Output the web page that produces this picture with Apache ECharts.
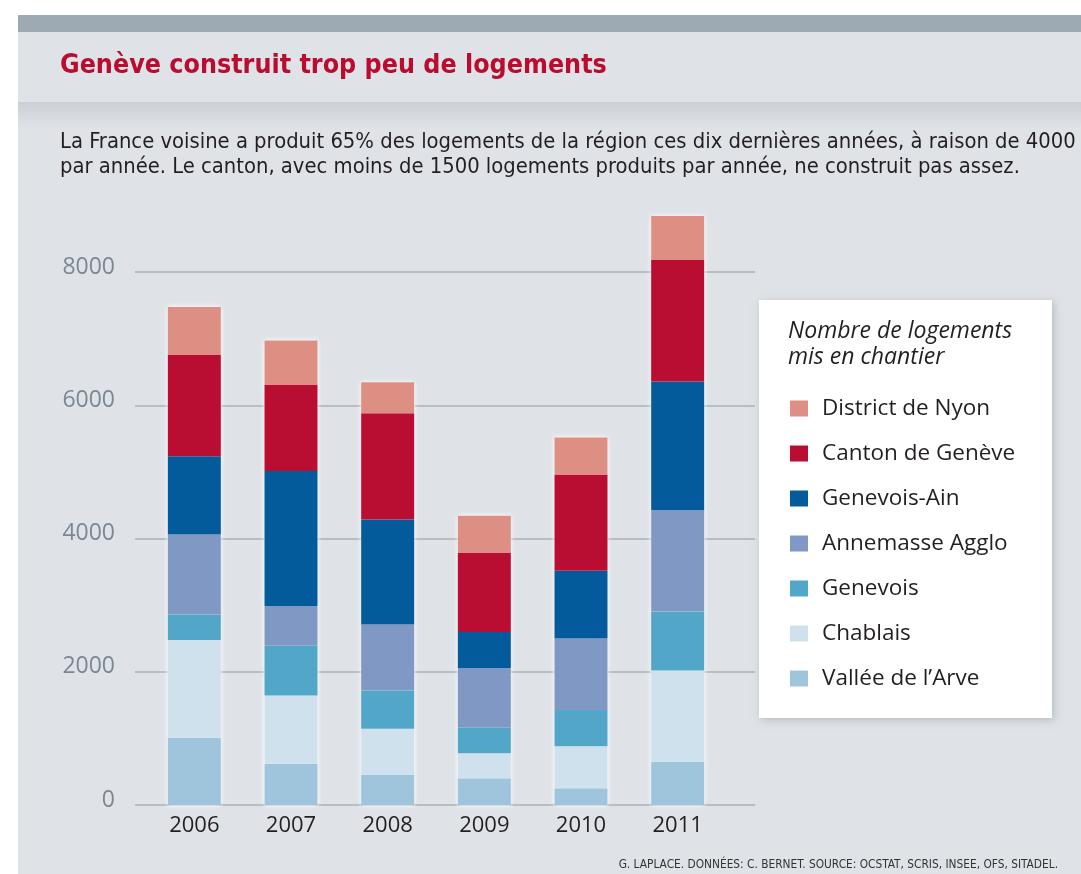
<!DOCTYPE html>
<html>
<head>
<meta charset="utf-8">
<script src="https://cdn.jsdelivr.net/npm/echarts@6/dist/echarts.min.js"></script>
<style>
  html, body { margin: 0; padding: 0; background: #fff; }
  #chart { width: 1081px; height: 874px; }
</style>
</head>
<body>
<div id="chart"></div>
<script>
// années
const years = ['2006', '2007', '2008', '2009', '2010', '2011'];
// séries, du bas vers le haut de la pile
const vallee = [1010, 620, 450, 400, 250, 650];
const chablais = [1465, 1025, 695, 375, 630, 1370];
const genevois = [385, 745, 575, 385, 545, 885];
const annemasse = [1200, 595, 990, 895, 1075, 1520];
const genevoisAin = [1175, 2030, 1575, 540, 1015, 1930];
const cantonGeneve = [1520, 1290, 1595, 1195, 1445, 1825];
const nyon = [720, 665, 465, 550, 555, 660];
const yTicks = [0, 2000, 4000, 6000, 8000];

const seriesDefs = [
	{ name: 'Vallée de l’Arve', data: vallee, color: '#9FC5DD' },
	{ name: 'Chablais', data: chablais, color: '#CFE1ED' },
	{ name: 'Genevois', data: genevois, color: '#52A6C7' },
	{ name: 'Annemasse Agglo', data: annemasse, color: '#7F99C4' },
	{ name: 'Genevois-Ain', data: genevoisAin, color: '#035B9B' },
	{ name: 'Canton de Genève', data: cantonGeneve, color: '#B90E31' },
	{ name: 'District de Nyon', data: nyon, color: '#DE8F84' }
];

// total pour le contour blanc des barres
const totals = years.map((y, i) => seriesDefs.reduce((s, d) => s + d.data[i], 0));

const condensed = '"DejaVu Sans Condensed", "Liberation Sans", sans-serif';

const chart = echarts.init(document.getElementById('chart'));

const series = [{
	name: 'total',
	type: 'bar',
	xAxisIndex: 0,
	yAxisIndex: 0,
	stack: 'outline',
	barWidth: 53,
	barGap: '-100%',
	clip: false,
	z: 1,
	silent: true,
	data: totals,
	itemStyle: {
		color: '#fff',
		borderColor: '#fff',
		borderWidth: 3,
		shadowColor: 'rgba(255,255,255,0.9)',
		shadowBlur: 5
	}
}];
seriesDefs.forEach(d => {
	series.push({
		name: d.name,
		type: 'bar',
		xAxisIndex: 0,
		yAxisIndex: 0,
		stack: 'total',
		barWidth: 53,
		barGap: '-100%',
		clip: false,
		z: 2,
		data: d.data,
		itemStyle: { color: d.color }
	});
});

const option = {
	backgroundColor: '#fff',
	animation: false,
	textStyle: { fontFamily: 'Open Sans' },
	graphic: [
		// fond
		{ type: 'rect', z: -10, shape: { x: 18, y: 15, width: 1063, height: 859 }, style: { fill: '#DFE3E8' } },
		{ type: 'rect', z: -9, shape: { x: 18, y: 15, width: 1063, height: 17 }, style: { fill: '#9DAAB3' } },
		{
			type: 'rect', z: -9, shape: { x: 18, y: 102, width: 1063, height: 26 },
			style: {
				fill: new echarts.graphic.LinearGradient(0, 0, 0, 1, [
					{ offset: 0, color: '#C9CFD5' },
					{ offset: 1, color: '#DFE3E8' }
				])
			}
		},
		{
			type: 'text', left: 60, top: 53,
			style: {
				text: 'Genève construit trop peu de logements',
				font: 'bold 26.6px ' + condensed,
				fill: '#BA0C2F'
			}
		},
		{
			type: 'text', left: 60, top: 130,
			style: {
				text: 'La France voisine a produit 65% des logements de la région ces dix dernières années, à raison de 4000\npar année. Le canton, avec moins de 1500 logements produits par année, ne construit pas assez.',
				font: '21.8px ' + condensed,
				lineHeight: 25,
				fill: '#231F20'
			}
		},
		// cadre de la légende
		{
			type: 'rect', z: 0, shape: { x: 759, y: 300, width: 293, height: 418 },
			style: { fill: '#fff', shadowColor: 'rgba(0,0,0,0.18)', shadowBlur: 8, shadowOffsetX: 2, shadowOffsetY: 2 }
		},
		{
			type: 'text', z: 1, left: 788, top: 318,
			style: {
				text: 'Nombre de logements\nmis en chantier',
				font: 'italic 23px "Open Sans"',
				lineHeight: 26,
				fill: '#231F20'
			}
		},
		{
			type: 'text', right: 23, top: 859,
			style: {
				text: 'G. LAPLACE. DONNÉES: C. BERNET. SOURCE: OCSTAT, SCRIS, INSEE, OFS, SITADEL.',
				font: '11.8px ' + condensed,
				fill: '#333'
			}
		}
	],
	legend: {
		data: seriesDefs.map(d => d.name).reverse(),
		orient: 'vertical',
		left: 785,
		top: 392,
		z: 5,
		itemWidth: 18,
		itemHeight: 16,
		itemGap: 22,
		selectedMode: false,
		icon: 'rect',
		textStyle: { fontSize: 22.5, color: '#231F20', fontFamily: 'Open Sans', padding: [0, 0, 0, 9] }
	},
	grid: [
		{ left: 146, right: 355, top: 272, bottom: 69 },
		{ left: 135, right: 326, top: 272, bottom: 69 }
	],
	xAxis: [
		{
			type: 'category', gridIndex: 0, data: years,
			axisLine: { show: false }, axisTick: { show: false },
			axisLabel: { fontSize: 22, color: '#231F20', margin: 10 }
		},
		{
			type: 'category', gridIndex: 1, data: years, show: false
		}
	],
	yAxis: [
		{
			type: 'value', gridIndex: 0, min: 0, max: 8000, interval: 2000,
			show: false
		},
		{
			type: 'value', gridIndex: 1, min: 0, max: 8000, interval: 2000,
			axisLine: { show: false }, axisTick: { show: false },
			splitLine: { lineStyle: { color: '#A7B1BA', width: 1.5 } },
			axisLabel: {
				fontSize: 23, color: '#7A8893', margin: 20,
				verticalAlign: 'bottom', lineHeight: 10,
				formatter: v => yTicks.includes(v) ? String(v) : ''
			}
		}
	],
	series: series
};

chart.setOption(option);
</script>
</body>
</html>
